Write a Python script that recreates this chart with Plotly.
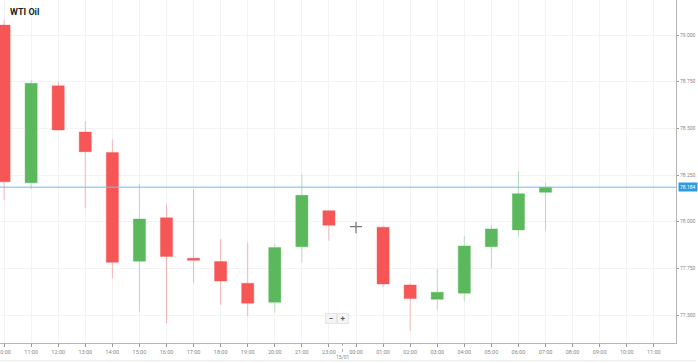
import plotly.graph_objects as go

# ---- data ----
times = ["10:00", "11:00", "12:00", "13:00", "14:00", "15:00", "16:00", "17:00",
         "18:00", "19:00", "20:00", "21:00", "23:00", "00:00", "01:00", "02:00",
         "03:00", "04:00", "05:00", "06:00", "07:00"]
opens = [79.053, 78.209, 78.728, 78.480, 78.370, 77.788, 78.021, 77.804,
         77.786, 77.670, 77.568, 77.866, 78.059, 77.973, 77.970, 77.661,
         77.584, 77.617, 77.866, 77.956, 78.157]
highs = [79.080, 78.759, 78.750, 78.539, 78.441, 78.202, 78.093, 78.174,
         77.907, 77.888, 77.881, 78.255, 78.059, 78.000, 77.979, 77.670,
         77.748, 77.923, 77.982, 78.272, 78.209]
lows = [78.116, 78.175, 78.491, 78.072, 77.697, 77.518, 77.456, 77.673,
        77.554, 77.495, 77.513, 77.780, 77.898, 77.938, 77.649, 77.416,
        77.527, 77.574, 77.748, 77.920, 77.952]
closes = [78.214, 78.741, 78.491, 78.375, 77.782, 78.014, 77.813, 77.793,
          77.682, 77.563, 77.861, 78.141, 77.981, 77.973, 77.666, 77.588,
          77.622, 77.870, 77.961, 78.150, 78.184]
axis_labels = ["10:00", "11:00", "12:00", "13:00", "14:00", "15:00", "16:00",
               "17:00", "18:00", "19:00", "20:00", "21:00", "23:00", "00:00",
               "01:00", "02:00", "03:00", "04:00", "05:00", "06:00", "07:00",
               "08:00", "09:00", "10:00", "11:00"]
y_ticks = [77.5, 77.75, 78.0, 78.25, 78.5, 78.75, 79.0]
current_price = 78.184
title = "WTI Oil"
date_label = "15/01"

RED = "#f75656"
GREEN = "#5cb85c"

idx = list(range(len(times)))
doji = [i for i in idx if opens[i] == closes[i]]
normal = [i for i in idx if opens[i] != closes[i]]

fig = go.Figure()
fig.add_trace(go.Candlestick(
    x=[idx[i] for i in normal],
    open=[opens[i] for i in normal], high=[highs[i] for i in normal],
    low=[lows[i] for i in normal], close=[closes[i] for i in normal],
    increasing=dict(fillcolor=GREEN, line=dict(color="rgba(92,184,92,0.4)", width=1)),
    decreasing=dict(fillcolor=RED, line=dict(color="rgba(247,86,86,0.4)", width=1)),
    whiskerwidth=0, showlegend=False, hoverinfo="skip",
))
fig.add_trace(go.Candlestick(
    x=[idx[i] for i in doji],
    open=[opens[i] for i in doji], high=[highs[i] for i in doji],
    low=[lows[i] for i in doji], close=[closes[i] for i in doji],
    increasing=dict(fillcolor="#666666", line=dict(color="#777777", width=1.2)),
    decreasing=dict(fillcolor="#666666", line=dict(color="#777777", width=1.2)),
    whiskerwidth=0, showlegend=False, hoverinfo="skip",
))

# current price line
fig.add_shape(type="line", xref="paper", x0=0, x1=1, yref="y",
              y0=current_price, y1=current_price,
              line=dict(color="rgba(120,190,240,0.7)", width=1.5))
fig.add_annotation(xref="paper", x=1.0, xanchor="left", yref="y", y=current_price,
                   text=f"{current_price:.3f}", showarrow=False,
                   font=dict(size=5, color="white", family="Roboto"),
                   bgcolor="#2f9be3", borderpad=1, xshift=2)

# date separator
sep_x = axis_labels.index("00:00") - 0.5
fig.add_shape(type="line", xref="x", x0=sep_x, x1=sep_x, yref="paper", y0=0, y1=-0.027,
              line=dict(color="#aaaaaa", width=1, dash="dot"))
fig.add_annotation(xref="x", x=sep_x, yref="paper", y=-0.041, yanchor="middle",
                   text=date_label, showarrow=False,
                   font=dict(size=5, color="#888888", family="Roboto"))

# title
fig.add_annotation(xref="paper", x=0.012, xanchor="left", yref="paper", y=0.985,
                   yanchor="top", text=f"<b>{title}</b>", showarrow=False,
                   font=dict(size=9, color="#222222", family="Roboto"))

# zoom buttons
for txt, px in [("−", 0.489), ("+", 0.508)]:
    fig.add_annotation(xref="paper", x=px, yref="paper", y=0.055, text=f"<b>{txt}</b>",
                       showarrow=False, font=dict(size=8, color="#555555", family="Roboto"),
                       bgcolor="#f4f4f4", bordercolor="#e6e6e6", borderwidth=1, borderpad=0,
                       width=10, height=9)

# bottom faint line
fig.add_shape(type="line", xref="paper", x0=0, x1=1.03, yref="paper", y0=-0.052, y1=-0.052,
              line=dict(color="#e8e8e8", width=1))

fig.update_layout(
    width=698, height=363,
    margin=dict(l=0, r=22, t=0, b=20),
    paper_bgcolor="white", plot_bgcolor="white",
    boxgap=0.36,
    hovermode=False,
    xaxis=dict(
        range=[-0.15, 24.82],
        tickmode="array", tickvals=list(range(len(axis_labels))), ticktext=axis_labels,
        showgrid=True, gridcolor="#f3f3f3", gridwidth=1,
        showline=True, linecolor="#b5b5b5", linewidth=1,
        ticks="outside", ticklen=3, tickcolor="#999999",
        tickfont=dict(size=5.5, color="#888888", family="Roboto"),
        ticklabeloverflow="allow",
        rangeslider=dict(visible=False), zeroline=False, fixedrange=True,
        automargin=False,
    ),
    yaxis=dict(
        side="right", range=[77.350, 79.1875],
        tickmode="array", tickvals=y_ticks, tickformat=".3f",
        showgrid=True, gridcolor="#f3f3f3", gridwidth=1,
        showline=True, linecolor="#b5b5b5", linewidth=1,
        ticks="outside", ticklen=2, tickcolor="#999999",
        tickfont=dict(size=5, color="#888888", family="Roboto"),
        zeroline=False, fixedrange=True, automargin=False,
    ),
)

fig.write_html("out.html", config={"displayModeBar": False})

# remove default page margin so the figure sits at the window's top-left corner
with open("out.html", "r", encoding="utf-8") as f:
    html = f.read()
html = html.replace("<head>", "<head><style>html,body{margin:0;padding:0;overflow:hidden;}</style>", 1)
with open("out.html", "w", encoding="utf-8") as f:
    f.write(html)
